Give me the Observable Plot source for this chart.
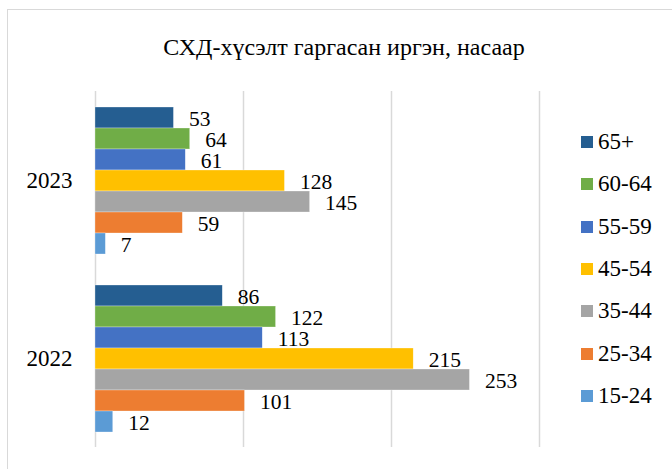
<!DOCTYPE html>
<html>
<head>
<meta charset="utf-8">
<script src="https://cdn.jsdelivr.net/npm/d3@7"></script>
<script src="https://cdn.jsdelivr.net/npm/@observablehq/plot@0.6"></script>
<style>
  html, body { margin: 0; padding: 0; background: #fff; }
  #wrap { position: relative; width: 672px; height: 469px; overflow: hidden; font-family: "Liberation Serif", Tinos, "Times New Roman", "DejaVu Serif", serif; }
  #frame { position: absolute; left: 7px; top: 9px; width: 700px; height: 500px; border-left: 1.5px solid #d9d9d9; border-top: 1.5px solid #d9d9d9; box-sizing: border-box; }
  #title { position: absolute; left: 0; width: 688px; top: 33px; text-align: center; font-size: 24px; line-height: 28px; color: #000; }
  #chart { position: absolute; left: 0; top: 80px; }
  #legend { position: absolute; left: 581px; top: 130px; }
  .li { position: absolute; left: 0; height: 24px; display: flex; align-items: center; white-space: nowrap; font-size: 23px; }
  .sw { width: 12px; height: 12px; margin-right: 5px; }
</style>
</head>
<body>
<div id="wrap">
  <div id="frame"></div>
  <div id="title">СХД-хүсэлт гаргасан иргэн, насаар</div>
  <div id="chart"></div>
  <div id="legend"></div>
</div>
<script>
const years = ["2023", "2022"];
const groups = ["65+", "60-64", "55-59", "45-54", "35-44", "25-34", "15-24"];
const colors = ["#255e91", "#70ad47", "#4472c4", "#ffc000", "#a5a5a5", "#ed7d31", "#5b9bd5"];
const values2023 = [53, 64, 61, 128, 145, 59, 7];
const values2022 = [86, 122, 113, 215, 253, 101, 12];
const gridTicks = [0, 100, 200, 300];

const data = [];
groups.forEach((g, i) => {
  data.push({year: "2023", group: g, value: values2023[i]});
  data.push({year: "2022", group: g, value: values2022[i]});
});

const FONT = "'Liberation Serif', Tinos, 'Times New Roman', 'DejaVu Serif', serif";

const chart = Plot.plot({
  width: 560,
  height: 380,
  marginLeft: 95,
  marginRight: 21,
  marginTop: 10,
  marginBottom: 13,
  style: {fontFamily: FONT, background: "transparent"},
  x: {domain: [0, 300], axis: null},
  y: {domain: groups, axis: null, paddingInner: 0, paddingOuter: 0.72},
  fy: {domain: years, padding: 0, label: null},
  color: {domain: groups, range: colors},
  marks: [
    Plot.ruleX(gridTicks, {stroke: "#d9d9d9", strokeWidth: 1.5}),
    Plot.barX(data, {fy: "year", y: "group", x: "value", fill: "group", stroke: "#ffffff", strokeWidth: 0.5, strokeOpacity: 0.6}),
    Plot.text(data, {fy: "year", y: "group", x: "value", text: d => String(d.value), textAnchor: "start", dx: 15, dy: 1, fontSize: 21.5, fontFamily: FONT, fill: "#000"}),
    Plot.axisFy({anchor: "left", tickSize: 0, tickPadding: 23, fontSize: 23, fontFamily: FONT, label: null, color: "#000"})
  ]
});
document.getElementById("chart").appendChild(chart);

const legend = document.getElementById("legend");
groups.forEach((g, i) => {
  const item = document.createElement("div");
  item.className = "li";
  item.style.top = (i * 42.3) + "px";
  const sw = document.createElement("div");
  sw.className = "sw";
  sw.style.background = colors[i];
  const t = document.createElement("span");
  t.textContent = g;
  item.appendChild(sw);
  item.appendChild(t);
  legend.appendChild(item);
});
</script>
</body>
</html>
